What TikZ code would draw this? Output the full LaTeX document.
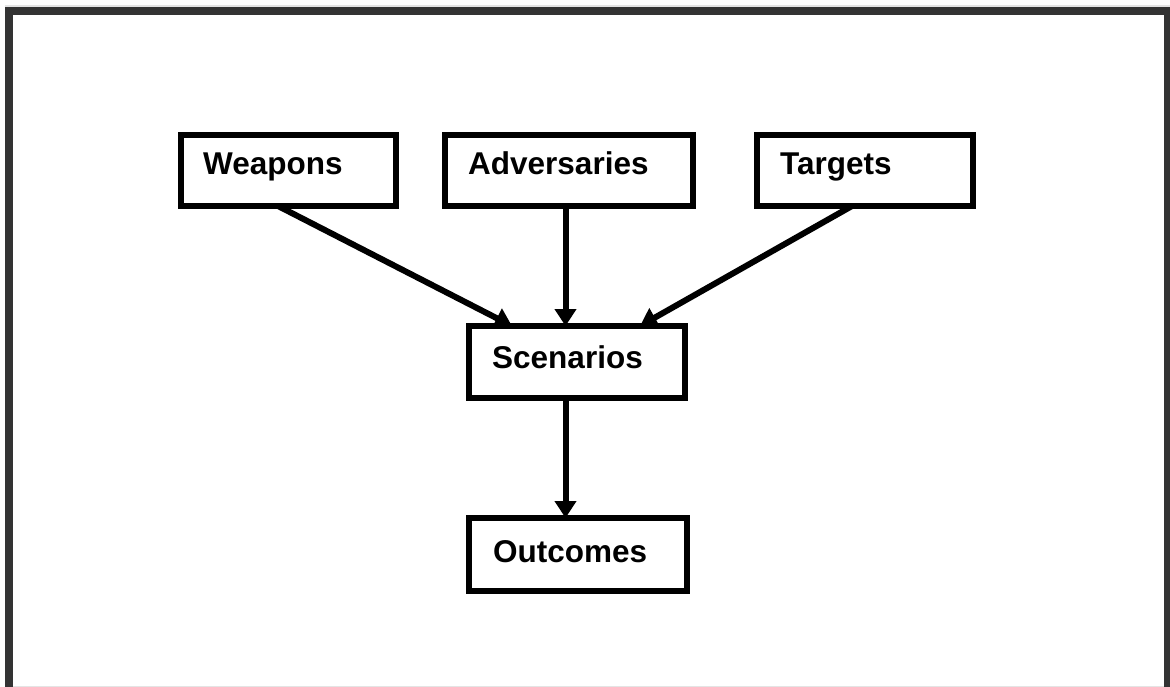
\documentclass[tikz,border=0pt]{standalone}
\usepackage{fontspec}
\setmainfont{Liberation Sans}
\usetikzlibrary{arrows.meta}
\definecolor{framegray}{HTML}{333333}
\definecolor{edgegray}{HTML}{E4E4E4}
\begin{document}
\begin{tikzpicture}[x=1pt,y=-1pt,
  box/.style={draw=black,line width=6pt,minimum width=#1,minimum height=71pt,inner sep=0pt,outer sep=0pt},
  lbl/.style={anchor=base west,inner sep=0pt,font=\fontsize{31.5}{36}\selectfont\bfseries},
  link/.style={line width=6pt,-{Triangle[width=21pt,length=17pt]}}]
\useasboundingbox (0,0) rectangle (1170,687);
% page frame
\fill[edgegray] (5,5.5) rectangle (1170,7);
\fill[edgegray] (13,685.5) rectangle (1164,687);
\fill[framegray] (5,7) rectangle (1170,15);
\fill[framegray] (5,7) rectangle (13,687);
\fill[framegray] (1164,7) rectangle (1170,687);
% boxes
\node[box=215pt] (weap) at (288.5,170.5) {};
\node[box=248pt] (adv)  at (569,170.5) {};
\node[box=216pt] (targ) at (865,170.5) {};
\node[box=216pt,minimum height=72pt] (scen) at (577,362) {};
\node[box=218pt,minimum height=73pt] (outc) at (578,554.5) {};
% labels
\node[lbl] (weapt) at (203,175) {Weapons};
\node[lbl] (advt)  at (468,175) {Adversaries};
\node[lbl] (targt) at (780,175) {Targets};
\node[lbl] (scent) at (492,368) {Scenarios};
\node[lbl] (outct) at (493,562) {Outcomes};
% connectors
\draw[link] ([xshift=97pt]weap.south west) -- ([xshift=43pt]scen.north west);
\draw[link] ([xshift=120.5pt]adv.south west) -- ([xshift=96.5pt]scen.north west);
\draw[link] ([xshift=95pt]targ.south west) -- ([xshift=171pt]scen.north west);
\draw[link] ([xshift=96.5pt]scen.south west) -- ([xshift=96.5pt]outc.north west);
\end{tikzpicture}
\end{document}
